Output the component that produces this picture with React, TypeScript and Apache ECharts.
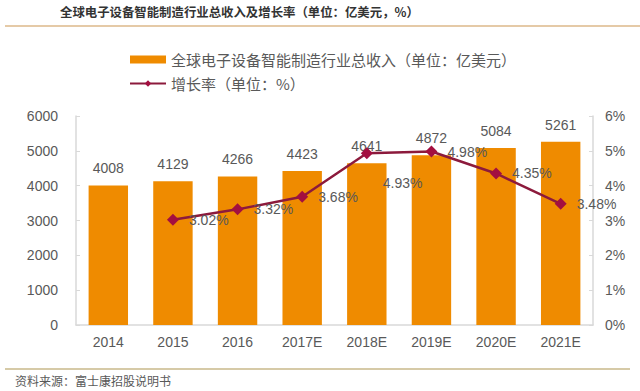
import React, { useEffect, useRef } from "react";
import * as echarts from "echarts";

const categories = ["2014", "2015", "2016", "2017E", "2018E", "2019E", "2020E", "2021E"];
const revenue = [4008, 4129, 4266, 4423, 4641, 4872, 5084, 5261];
const growth: (number | null)[] = [null, 3.02, 3.32, 3.68, 4.93, 4.98, 4.35, 3.48];
const leftTicks = [0, 6000, 1000];
const rightTicks = [0, 6, 1];

const titleText = "全球电子设备智能制造行业总收入及增长率（单位：亿美元，%）";
const sourceText = "资料来源：富士康招股说明书";
const barName = "全球电子设备智能制造行业总收入（单位：亿美元）";
const lineName = "增长率（单位：%）";

const FONT = "'Liberation Sans', 'Noto Sans CJK SC', sans-serif";
const CJK = "'Noto Sans CJK SC', sans-serif";

export default function App() {
  const ref = useRef<HTMLDivElement>(null);
  useEffect(() => {
    if (!ref.current) return;
    const chart = echarts.init(ref.current, null, { renderer: "svg" });
    const lineData = growth.map((v, i) => {
      if (v === null) return null;
      if (categories[i] === "2018E") {
        return { value: v, label: { offset: [0, 30] } };
      }
      return v;
    });
    chart.setOption({
      animation: false,
      backgroundColor: "#ffffff",
      textStyle: { fontFamily: FONT },
      graphic: [
        {
          type: "text",
          left: 60,
          top: 6,
          style: { text: titleText, fill: "#333333", font: `bold 12.4px ${CJK}` },
        },
        {
          type: "line",
          shape: { x1: 5, y1: 26, x2: 640, y2: 26 },
          style: { stroke: "#dcb88a", lineWidth: 1.5 },
        },
        {
          type: "line",
          shape: { x1: 5, y1: 369, x2: 630, y2: 369 },
          style: { stroke: "#c9b98a", lineWidth: 1.5 },
        },
        {
          type: "text",
          left: 15,
          top: 374,
          style: { text: sourceText, fill: "#595959", font: `12px ${CJK}` },
        },
      ],
      legend: {
        orient: "vertical",
        left: 124,
        top: 47,
        itemWidth: 36,
        itemHeight: 8,
        itemGap: 9,
        textStyle: { color: "#595959", fontSize: 15, fontFamily: CJK },
        data: [
          { name: barName, icon: "rect", itemHeight: 7 },
          { name: lineName },
        ],
      },
      grid: { left: 76, right: 47, top: 116, bottom: 66 },
      xAxis: {
        type: "category",
        data: categories,
        axisLine: { lineStyle: { color: "#d9d9d9", width: 1.5 } },
        axisTick: { show: false },
        axisLabel: { color: "#595959", fontSize: 14, margin: 10 },
      },
      yAxis: [
        {
          type: "value",
          min: leftTicks[0],
          max: leftTicks[1],
          interval: leftTicks[2],
          axisLine: { show: true, lineStyle: { color: "#d9d9d9", width: 1.5 } },
          axisTick: { show: true, inside: true, length: 4, lineStyle: { color: "#d9d9d9" } },
          splitLine: { show: false },
          axisLabel: {
            color: "#595959",
            fontSize: 14,
            margin: 18,
            formatter: (v: number) => String(v),
          },
        },
        {
          type: "value",
          min: rightTicks[0],
          max: rightTicks[1],
          interval: rightTicks[2],
          position: "right",
          axisLine: { show: true, lineStyle: { color: "#d9d9d9", width: 1.5 } },
          axisTick: { show: true, inside: true, length: 4, lineStyle: { color: "#d9d9d9" } },
          splitLine: { show: false },
          axisLabel: { color: "#595959", fontSize: 14, margin: 12, formatter: "{value}%" },
        },
      ],
      series: [
        {
          name: barName,
          type: "bar",
          data: revenue,
          barWidth: "61%",
          itemStyle: { color: "#ef8b00" },
          label: {
            show: true,
            position: "top",
            distance: 10,
            color: "#595959",
            fontSize: 14,
          },
        },
        {
          name: lineName,
          type: "line",
          yAxisIndex: 1,
          data: lineData,
          symbol: "diamond",
          symbolSize: 12,
          lineStyle: { color: "#8c1a3c", width: 2.5 },
          itemStyle: { color: "#a30f40" },
          label: {
            show: true,
            position: "right",
            distance: 10,
            color: "#595959",
            fontSize: 14,
            formatter: (p: any) => `${Number(p.value).toFixed(2)}%`,
          },
        },
      ],
    });
    return () => chart.dispose();
  }, []);
  return <div ref={ref} style={{ width: 640, height: 391, position: "fixed", left: 0, top: 0 }} />;
}
